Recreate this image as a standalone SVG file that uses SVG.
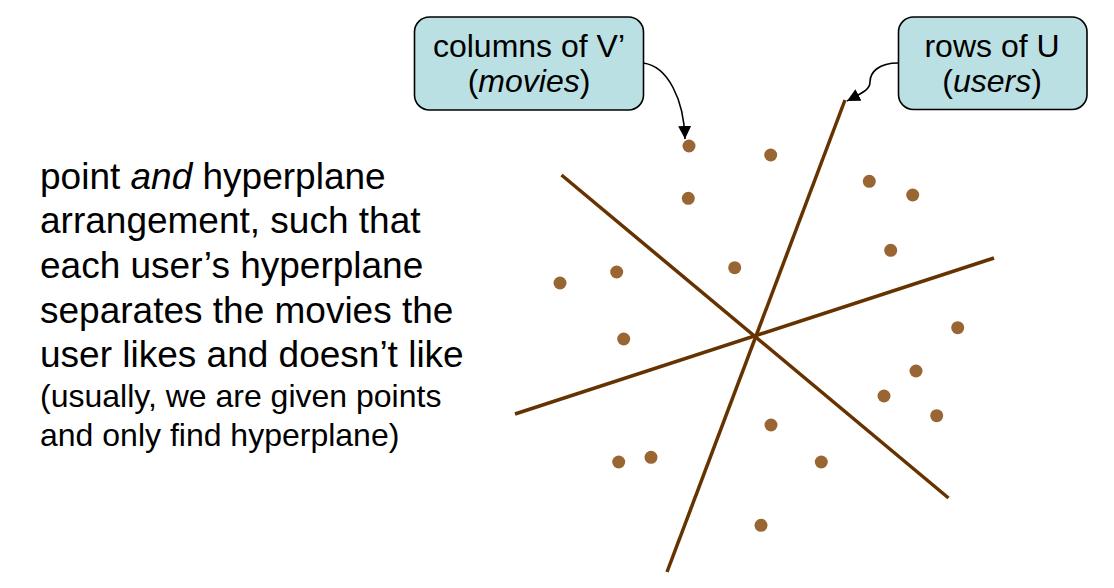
<svg xmlns="http://www.w3.org/2000/svg" width="1114" height="588" viewBox="0 0 1114 588">
<style>
text{font-family:"Liberation Sans",Arial,sans-serif;fill:#000}
.big{font-size:37px}
.small{font-size:32px}
.lbl{font-size:32px;text-anchor:middle}
.box{fill:#BBE0E3;stroke:#000;stroke-width:1.6}
.plane{stroke:#663300;stroke-width:3.5;fill:none}
.dot{fill:#996633}
.conn{stroke:#000;stroke-width:1.6;fill:none;marker-end:url(#ah)}
</style>
<defs>
<marker id="ah" markerUnits="userSpaceOnUse" markerWidth="14" markerHeight="14" refX="13" refY="7" orient="auto">
<path d="M0,0.5 L13,7 L0,13.5 Z" fill="#000"/>
</marker>
</defs>
<rect width="1114" height="588" fill="#fff"/>
<g id="description">
<text class="big" x="40" y="188.5">point <tspan font-style="italic">and</tspan> hyperplane</text>
<text class="big" x="40" y="233">arrangement, such that</text>
<text class="big" x="40" y="278">each user’s hyperplane</text>
<text class="big" x="40" y="322.5">separates the movies the</text>
<text class="big" x="40" y="367">user likes and doesn’t like</text>
<text class="small" x="40" y="407">(usually, we are given points</text>
<text class="small" x="40" y="446">and only find hyperplane)</text>
</g>
<g id="hyperplanes">
<line class="plane" x1="845" y1="100" x2="667" y2="572"/>
<line class="plane" x1="561.5" y1="175" x2="948.5" y2="498"/>
<line class="plane" x1="515" y1="414" x2="994" y2="258"/>
</g>
<g id="points">
<circle class="dot" cx="689" cy="146" r="6.5"/>
<circle class="dot" cx="770.7" cy="155" r="6.5"/>
<circle class="dot" cx="688.3" cy="198.3" r="6.5"/>
<circle class="dot" cx="869.3" cy="181.3" r="6.5"/>
<circle class="dot" cx="912.7" cy="195" r="6.5"/>
<circle class="dot" cx="890.7" cy="250.3" r="6.5"/>
<circle class="dot" cx="734.7" cy="267.7" r="6.5"/>
<circle class="dot" cx="616.7" cy="272" r="6.5"/>
<circle class="dot" cx="560" cy="283" r="6.5"/>
<circle class="dot" cx="957.7" cy="327.7" r="6.5"/>
<circle class="dot" cx="623.7" cy="339" r="6.5"/>
<circle class="dot" cx="916" cy="371" r="6.5"/>
<circle class="dot" cx="884" cy="396" r="6.5"/>
<circle class="dot" cx="936.7" cy="415.7" r="6.5"/>
<circle class="dot" cx="771" cy="425" r="6.5"/>
<circle class="dot" cx="618.7" cy="462" r="6.5"/>
<circle class="dot" cx="651" cy="457.3" r="6.5"/>
<circle class="dot" cx="821.3" cy="462" r="6.5"/>
<circle class="dot" cx="761" cy="525.3" r="6.5"/>
</g>
<g id="connectors">
<path class="conn" d="M643,63 C668,66 684,100 685,139"/>
<path class="conn" d="M898,63 C879,63 870,72 870,82 C870,90 862,93 847,101"/>
</g>
<g id="node-columns">
<rect class="box" x="414.5" y="17" width="229" height="93" rx="15"/>
<text class="lbl" x="529" y="57">columns of V’</text>
<text class="lbl" x="529" y="92">(<tspan font-style="italic">movies</tspan>)</text>
</g>
<g id="node-rows">
<rect class="box" x="898.5" y="17" width="188.5" height="92.5" rx="15"/>
<text class="lbl" x="992" y="57">rows of U</text>
<text class="lbl" x="992" y="92">(<tspan font-style="italic">users</tspan>)</text>
</g>
</svg>
